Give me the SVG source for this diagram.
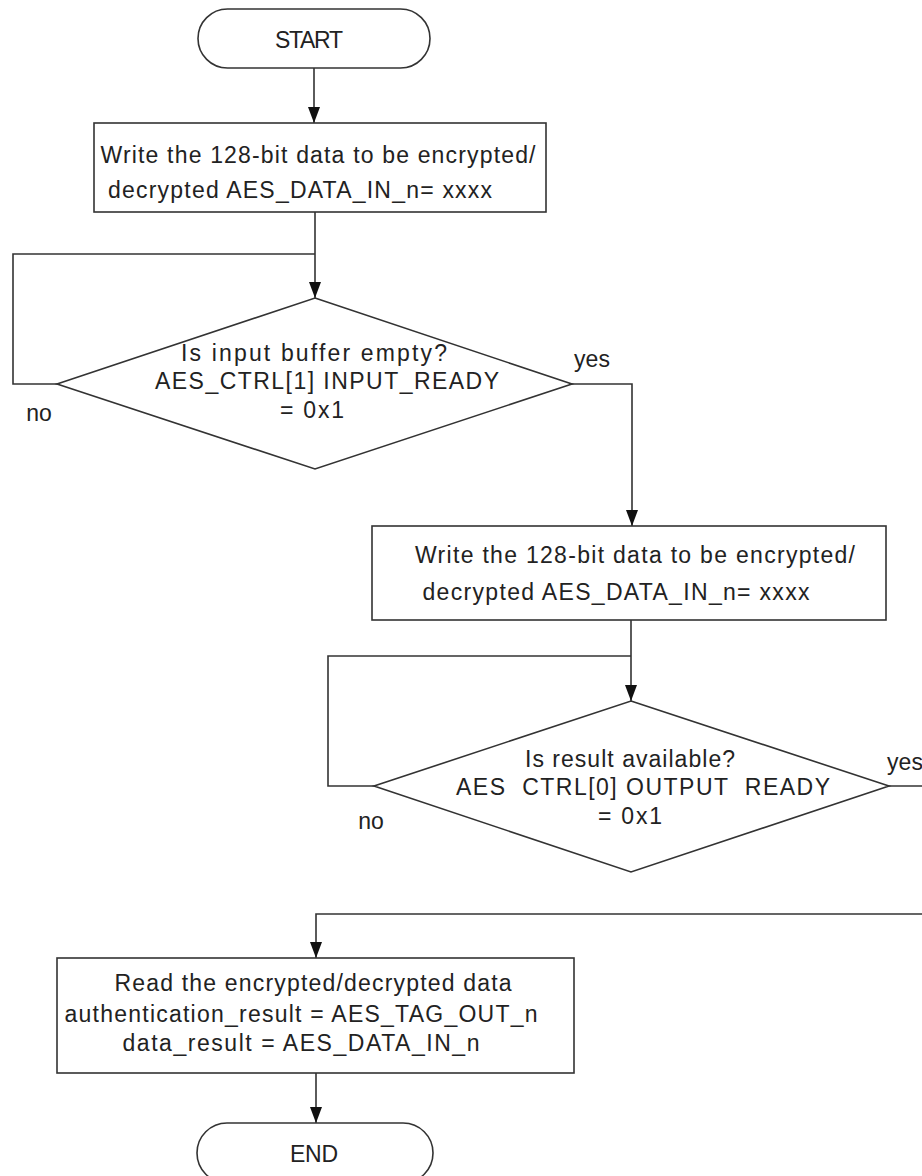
<svg xmlns="http://www.w3.org/2000/svg" width="922" height="1176" viewBox="0 0 922 1176">
<style>
.s{fill:#fff;stroke:#333;stroke-width:1.6}
.c{fill:none;stroke:#333;stroke-width:1.6}
text{font-family:"Liberation Sans",Arial,sans-serif;font-size:23px;fill:#222;text-anchor:middle}
</style>
<defs>
<marker id="ah" viewBox="0 0 16 12" markerWidth="16" markerHeight="12" refX="16" refY="6" orient="auto" markerUnits="userSpaceOnUse">
<path d="M0,0 L16,6 L0,12 Z" fill="#111"/>
</marker>
</defs>
<rect width="922" height="1176" fill="#fff"/>
<g id="connectors">
<line class="c" x1="314" y1="68" x2="314" y2="123" marker-end="url(#ah)"/>
<polyline class="c" points="315,212 315,298" marker-end="url(#ah)"/>
<polyline class="c" points="315,254 13,254 13,384 57,384"/>
<polyline class="c" points="572,384 632,384 632,526" marker-end="url(#ah)"/>
<polyline class="c" points="631,620 631,701" marker-end="url(#ah)"/>
<polyline class="c" points="631,656 328,656 328,786 374,786"/>
<polyline class="c" points="889,786 922,786"/>
<polyline class="c" points="922,914 316,914 316,958" marker-end="url(#ah)"/>
<polyline class="c" points="316,1073 316,1123" marker-end="url(#ah)"/>
<text x="592" y="367">yes</text>
<text x="39" y="421">no</text>
<text x="905" y="770">yes</text>
<text x="371" y="829">no</text>
</g>
<g id="start">
<rect class="s" x="198" y="9" width="232" height="59" rx="29.5"/>
<text x="309" y="48" textLength="68">START</text>
</g>
<g id="write1">
<rect class="s" x="94" y="123" width="452" height="89"/>
<text x="318" y="163" textLength="435">Write the 128-bit data to be encrypted/</text>
<text x="300" y="198" textLength="384">decrypted AES_DATA_IN_n= xxxx</text>
</g>
<g id="check-input">
<polygon class="s" points="315,298 572,384 315,469 57,384"/>
<text x="314" y="361" textLength="266">Is input buffer empty?</text>
<text x="327" y="389" textLength="344">AES_CTRL[1] INPUT_READY</text>
<text x="312" y="418" textLength="64">= 0x1</text>
</g>
<g id="write2">
<rect class="s" x="372" y="526" width="514" height="94"/>
<text x="635" y="563" textLength="440">Write the 128-bit data to be encrypted/</text>
<text x="616" y="600" textLength="387">decrypted AES_DATA_IN_n= xxxx</text>
</g>
<g id="check-output">
<polygon class="s" points="631,701 889,786 631,872 374,786"/>
<text x="630" y="767" textLength="210">Is result available?</text>
<text x="643" y="795" textLength="374" xml:space="preserve">AES  CTRL[0] OUTPUT  READY</text>
<text x="630" y="824" textLength="64">= 0x1</text>
</g>
<g id="read">
<rect class="s" x="57" y="958" width="517" height="115"/>
<text x="313" y="991" textLength="397">Read the encrypted/decrypted data</text>
<text x="301" y="1022" textLength="473">authentication_result = AES_TAG_OUT_n</text>
<text x="301" y="1051" textLength="357">data_result = AES_DATA_IN_n</text>
</g>
<g id="end">
<rect class="s" x="197" y="1123" width="236" height="60" rx="30"/>
<text x="314" y="1162" textLength="48">END</text>
</g>
</svg>
